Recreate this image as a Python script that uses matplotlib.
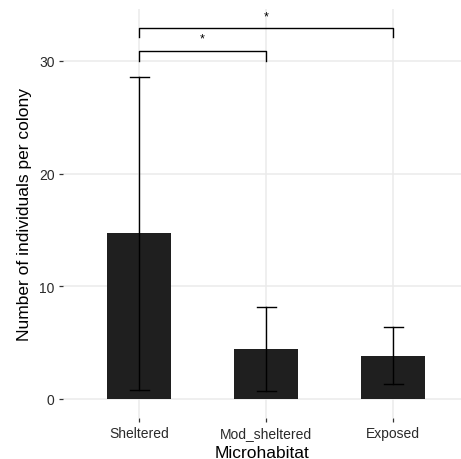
import matplotlib
matplotlib.use("Agg")
import matplotlib.pyplot as plt
import numpy as np

plt.rcParams["font.family"] = ["Liberation Sans", "DejaVu Sans"]

categories = ["Sheltered", "Mod_sheltered", "Exposed"]
means = [14.7, 4.4, 3.8]
err_low = [0.8, 0.7, 1.3]
err_high = [28.6, 8.2, 6.4]
yticks = [0, 10, 20, 30]
# significance brackets: (from index, to index, bar height, tick bottom, label)
brackets = [(0, 1, 30.9, 30.0, "*"), (0, 2, 32.9, 32.1, "*")]

W, H = 461, 460
fig = plt.figure(figsize=(W / 100, H / 100), dpi=100)
left, right, top, bottom = 63, 461, 10, 418.6
ax = fig.add_axes([left / W, 1 - bottom / H, (right - left) / W, (bottom - top) / H])

x = np.arange(1, len(categories) + 1)
grid_c = "#ebebeb"
for v in yticks:
    ax.axhline(v, color=grid_c, lw=1.1, zorder=0)
for xi in x:
    ax.axvline(xi, color=grid_c, lw=1.1, zorder=0)

ax.bar(x, means, width=0.5, color="#1f1f1f", zorder=2)
for xi, lo, hi in zip(x, err_low, err_high):
    ax.plot([xi, xi], [lo, hi], color="black", lw=1.0, zorder=3)
    for yv in (lo, hi):
        ax.plot([xi - 0.075, xi + 0.075], [yv, yv], color="black", lw=1.0, zorder=3)

for i, j, h, b, lab in brackets:
    xs = [x[i], x[i], x[j], x[j]]
    ys = [b, h, h, b]
    ax.plot(xs, ys, color="black", lw=1.0, zorder=3, clip_on=False)
    ax.text((x[i] + x[j]) / 2, h + 0.55, lab, ha="center", va="bottom", fontsize=9, color="black")

ax.set_xlim(0.4, (right - 139) / 127 + 1)
ax.set_ylim(-(bottom - 400) / 11.27, (400 - top) / 11.27)
ax.set_xticks(x)
ax.set_xticklabels(categories)
ax.set_yticks(yticks)
for s in ax.spines.values():
    s.set_visible(False)
ax.tick_params(axis="both", length=3, width=0.9, color="#333333", labelsize=10, labelcolor="#2a2a2a", pad=3)
ax.set_xlabel("Microhabitat", fontsize=12.5, labelpad=4)
ax.set_ylabel("Number of individuals per colony", fontsize=12.5, labelpad=5)
ax.set_facecolor("white")

fig.savefig("out.png", dpi=100)
